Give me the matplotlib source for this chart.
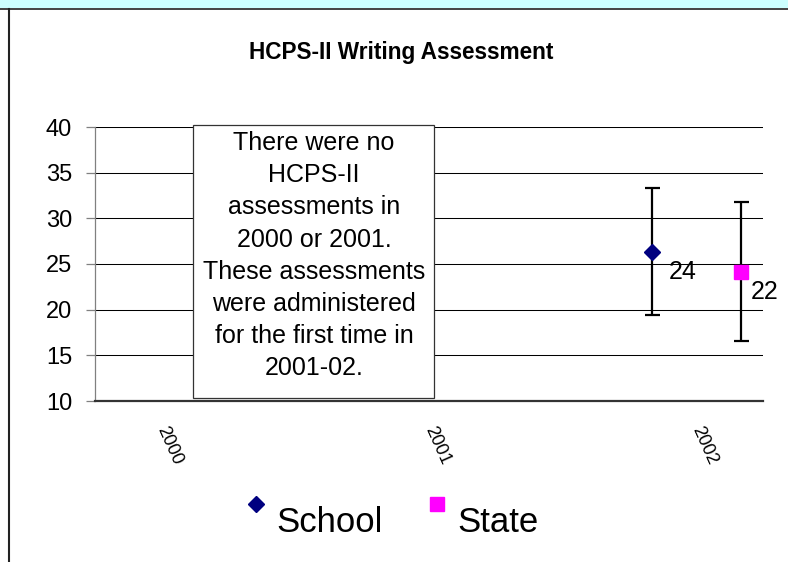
import numpy as np
import matplotlib
matplotlib.use("Agg")
import matplotlib.pyplot as plt
from matplotlib.patches import Rectangle
from matplotlib.lines import Line2D
from matplotlib.legend_handler import HandlerLine2D
from matplotlib.transforms import ScaledTranslation

plt.rcParams['font.family'] = ['Liberation Sans', 'DejaVu Sans']

# ---- data ----
categories = ["2000", "2001", "2002"]
series_names = ["School", "State"]
school_value = [26.35]
school_err = [6.95]
state_value = [24.16]
state_err = [7.6]
school_label = ["24"]
state_label = ["22"]
data_cat = [2]  # index of category with data
y_ticks = [10, 15, 20, 25, 30, 35, 40]
title = "HCPS-II Writing Assessment"
note = ("There were no\nHCPS-II\nassessments in\n2000 or 2001.\nThese assessments\n"
        "were administered\nfor the first time in\n2001-02.")

W, H = 788, 562
fig = plt.figure(figsize=(W / 100, H / 100), dpi=100)
fig.patch.set_facecolor("white")

def fx(px):
    return px / W

def fy(py):
    return 1 - py / H

# top band and left border
fig.add_artist(Rectangle((0, fy(8)), 1, 8 / H, transform=fig.transFigure,
                         facecolor="#CCFFFF", edgecolor="none", zorder=0))
fig.add_artist(Line2D([0, 1], [fy(8.5), fy(8.5)], transform=fig.transFigure,
                      color="#222222", lw=1.2))
fig.add_artist(Line2D([fx(8.5), fx(8.5)], [fy(8.5), 0], transform=fig.transFigure,
                      color="#222222", lw=1.5))

ax = fig.add_axes([fx(95), fy(401), fx(763) - fx(95), (401 - 127) / H])
ax.set_xlim(-0.25, 2.25)
ax.set_ylim(10, 40)
ax.set_yticks(y_ticks)
ax.yaxis.grid(True, color="black", lw=0.75)
ax.set_axisbelow(True)
for s in ["top", "right"]:
    ax.spines[s].set_visible(False)
ax.spines["left"].set_color("#808080")
ax.spines["left"].set_linewidth(0.9)
ax.spines["bottom"].set_color("#333333")
ax.spines["bottom"].set_linewidth(1.6)
ax.tick_params(axis="y", length=6.5, color="#808080", width=0.9, pad=10,
               labelsize=17)
ax.tick_params(axis="x", length=0, pad=16, labelsize=13)
ax.set_xticks(range(len(categories)))
ax.set_xticklabels(categories, rotation=-66, ha="left", va="top")
off = ScaledTranslation(-8 / 100, 0, fig.dpi_scale_trans)
for lab in ax.get_xticklabels():
    lab.set_transform(lab.get_transform() + off)

offset = 1 / 6
xs_school = np.array(data_cat) - offset
xs_state = np.array(data_cat) + offset

ax.errorbar(xs_school, school_value, yerr=school_err, fmt="none", ecolor="black",
            elinewidth=1.6, capsize=5.4, capthick=1.6, zorder=3)
ax.errorbar(xs_state, state_value, yerr=state_err, fmt="none", ecolor="black",
            elinewidth=1.6, capsize=5.4, capthick=1.6, zorder=3)
l1, = ax.plot(xs_school, school_value, linestyle="none", marker="D", markersize=7.8,
              color="#000080", label=series_names[0], zorder=4)
l2, = ax.plot(xs_state, state_value, linestyle="none", marker="s", markersize=10.5,
              color="#FF00FF", label=series_names[1], zorder=4)

for x, v, t in zip(xs_school, school_value, school_label):
    ax.annotate(t, (x, v), xytext=(12.2, -19.9), textcoords="offset points",
                ha="left", va="baseline", fontsize=18)
for x, v, t in zip(xs_state, state_value, state_label):
    ax.annotate(t, (x, v), xytext=(7.2, -19.9), textcoords="offset points",
                ha="left", va="baseline", fontsize=18)

# note box
fig.add_artist(Rectangle((fx(192.5), fy(397.5)), (434 - 192.5) / W, (397.5 - 125) / H,
                         transform=fig.transFigure, facecolor="white",
                         edgecolor="#333333", lw=0.9, zorder=5))
fig.text(fx(314), fy(131), note, ha="center", va="top", multialignment="center",
         fontsize=18, linespacing=1.43, zorder=6)

fig.text(fx(401), fy(59), title, ha="center", va="baseline", fontsize=16.3,
         fontweight="bold")


class UpHandler(HandlerLine2D):
    def create_artists(self, legend, orig_handle, xdescent, ydescent, width, height,
                       fontsize, trans):
        arts = super().create_artists(legend, orig_handle, xdescent, ydescent, width,
                                      height, fontsize, trans)
        for a in arts:
            a.set_ydata(np.asarray(a.get_ydata()) + height * 0.62)
        return arts


fig.legend(handles=[l1, l2], loc="center", bbox_to_anchor=(fx(392), fy(522)),
           ncol=2, frameon=False, fontsize=25, handlelength=0.6, handletextpad=0.3,
           columnspacing=1.25, borderpad=0, borderaxespad=0, numpoints=1,
           handler_map={Line2D: UpHandler(numpoints=1)})

fig.savefig("out.png", dpi=100)
